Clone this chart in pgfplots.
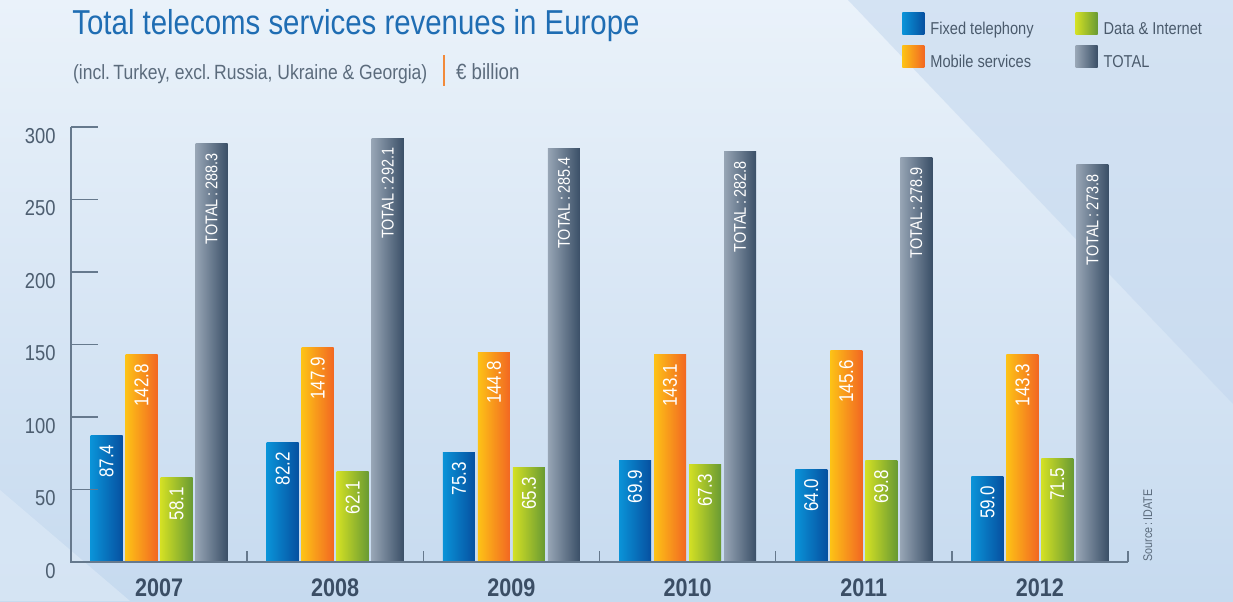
\documentclass[border=0pt]{standalone}
\usepackage{fontspec}
\setmainfont{Liberation Sans}[FakeStretch=0.85]
\usepackage{pgfplots}
\pgfplotsset{compat=1.18}
\definecolor{fixL}{HTML}{0A93D8}
\definecolor{fixR}{HTML}{0650A0}
\definecolor{mobL}{HTML}{FDC216}
\definecolor{mobR}{HTML}{F26722}
\definecolor{datL}{HTML}{D3E024}
\definecolor{datR}{HTML}{689A33}
\definecolor{totL}{HTML}{97A5B5}
\definecolor{totR}{HTML}{3A4F67}
\definecolor{titleblue}{HTML}{1F6DB3}
\definecolor{subgray}{HTML}{5B6B7C}
\definecolor{axisgray}{HTML}{66798D}
\definecolor{ticklab}{HTML}{4D5E70}
\definecolor{yeargray}{HTML}{3B4E65}
\definecolor{legtext}{HTML}{4A5A6C}
\definecolor{sepor}{HTML}{F28A3A}
\definecolor{bgA}{HTML}{EAF2FA}
\definecolor{bgB}{HTML}{C6DAEF}
\definecolor{bgDark}{HTML}{C3D7EE}
\definecolor{bgLight}{HTML}{DCE9F6}
\pgfplotsset{
  valnode/.style={nodes near coords={\pgfmathprintnumber[fixed,fixed zerofill,precision=1]{\pgfplotspointmeta}}},
  fixs/.style={draw=none, left color=fixL, right color=fixR, bar shift=-26.25pt, valnode},
  mobs/.style={draw=none, left color=mobL, right color=mobR, bar shift=-8.75pt, valnode},
  dats/.style={draw=none, left color=datL, right color=datR, bar shift=8.75pt, valnode},
  tots/.style={draw=none, left color=totL, right color=totR, bar shift=26.25pt,
    nodes near coords={TOTAL\,:\,\pgfmathprintnumber[fixed,fixed zerofill,precision=1]{\pgfplotspointmeta}},
    every node near coord/.append style={font=\fontsize{8.5}{10}\selectfont}},
}
\begin{document}
\begin{tikzpicture}
\clip (-35.5pt,-19.5pt) rectangle (581pt,281pt);
\shade[top color=bgA, bottom color=bgB] (-35.5pt,-19.5pt) rectangle (581pt,281pt);
\fill[bgDark, opacity=0.55] (388.5pt,281pt) -- (581pt,281pt) -- (581pt,79pt) -- cycle;
\fill[bgLight, opacity=0.7] (-35.5pt,36pt) -- (29.5pt,-19.5pt) -- (-35.5pt,-19.5pt) -- cycle;
\node[anchor=base west, inner sep=0pt, text=titleblue, font=\fontsize{17.3}{20}\selectfont] at (0.5pt,263.5pt) {Total telecoms services revenues in Europe};
\node[anchor=base west, inner sep=0pt, text=subgray, font=\fontsize{10.3}{12}\selectfont] at (0.85pt,241pt) {(incl.\,Turkey, excl.\,Russia, Ukraine \& Georgia)};
\draw[sepor, line width=1.2pt] (186.5pt,238pt) -- (186.5pt,253.5pt);
\node[anchor=base west, inner sep=0pt, text=subgray, font=\fontsize{11}{13}\selectfont] at (192.35pt,241pt) {€ billion};
\node[rotate=90, anchor=base west, inner sep=0pt, font=\fontsize{6.3}{8}\selectfont, text=subgray] at (540.5pt,0pt) {Source\,:\,IDATE};
\begin{axis}[
  at={(0pt,0pt)}, anchor=south west,
  scale only axis, width=528.5pt, height=217.5pt,
  xmin=-0.5, xmax=5.5, ymin=0, ymax=300,
  clip=false,
  axis line style={draw=none},
  tick style={draw=none},
  major tick length=0pt, minor tick length=0pt,
  tick align=inside, tick pos=left,
  xtick={0,1,2,3,4,5}, xticklabels={2007,2008,2009,2010,2011,2012},
  ytick={0,50,100,150,200,250,300},
  /pgf/number format/assume math mode=true,
  yticklabel style={font=\fontsize{10.8}{12}\selectfont, text=ticklab, xshift=-4.2pt, yshift=-4.5pt},
  xticklabel style={font=\fontsize{12.7}{14}\selectfont\bfseries, text=yeargray, anchor=north, yshift=-5pt},
  ybar=1.5pt, bar width=16pt,
  legend columns=2, transpose legend,
  legend style={at={(0.7862,1.2644)}, anchor=north west, draw=none, fill=none, inner sep=0pt,
    font=\fontsize{8.6}{10}\selectfont, text=legtext, row sep=4.2pt,
    /tikz/every odd column/.append style={column sep=3pt},
    /tikz/every even column/.append style={column sep=21pt},
    cells={anchor=base west}, nodes={inner sep=0pt}},
  legend image code/.code={\path[#1,draw=none] (0pt,0pt) rectangle (11pt,11pt);},
  nodes near coords style={rotate=90, anchor=east, text=white, inner xsep=4.5pt, inner ysep=0pt, font=\fontsize{10}{12}\selectfont},
]
% 2007 (legend-bearing)
\addplot[fixs] coordinates {(0,87.4)};  \addlegendentry{Fixed telephony}
\addplot[mobs] coordinates {(0,142.8)}; \addlegendentry{Mobile services}
\addplot[dats] coordinates {(0,58.1)};  \addlegendentry{Data \& Internet}
\addplot[tots] coordinates {(0,288.3)}; \addlegendentry{TOTAL}
% 2008
\addplot[fixs, forget plot] coordinates {(1,82.2)};
\addplot[mobs, forget plot] coordinates {(1,147.9)};
\addplot[dats, forget plot] coordinates {(1,62.1)};
\addplot[tots, forget plot] coordinates {(1,292.1)};
% 2009
\addplot[fixs, forget plot] coordinates {(2,75.3)};
\addplot[mobs, forget plot] coordinates {(2,144.8)};
\addplot[dats, forget plot] coordinates {(2,65.3)};
\addplot[tots, forget plot] coordinates {(2,285.4)};
% 2010
\addplot[fixs, forget plot] coordinates {(3,69.9)};
\addplot[mobs, forget plot] coordinates {(3,143.1)};
\addplot[dats, forget plot] coordinates {(3,67.3)};
\addplot[tots, forget plot] coordinates {(3,282.8)};
% 2011
\addplot[fixs, forget plot] coordinates {(4,64.0)};
\addplot[mobs, forget plot] coordinates {(4,145.6)};
\addplot[dats, forget plot] coordinates {(4,69.8)};
\addplot[tots, forget plot] coordinates {(4,278.9)};
% 2012
\addplot[fixs, forget plot] coordinates {(5,59.0)};
\addplot[mobs, forget plot] coordinates {(5,143.3)};
\addplot[dats, forget plot] coordinates {(5,71.5)};
\addplot[tots, forget plot] coordinates {(5,273.8)};
% axis lines and ticks (decoration)
\draw[axisgray, line width=0.7pt] (rel axis cs:0,1) -- (rel axis cs:0,0) -- (rel axis cs:1,0);
\pgfplotsinvokeforeach{0.5,1.5,2.5,3.5,4.5,5.5}{\draw[axisgray, line width=0.7pt] (axis cs:#1,0) -- ++(0pt,5.5pt);}
\pgfplotsinvokeforeach{50,100,150,200,250,300}{\draw[axisgray, line width=0.7pt] (axis cs:-0.5,#1) -- ++(13.5pt,0pt);}
\end{axis}
\end{tikzpicture}
\end{document}
